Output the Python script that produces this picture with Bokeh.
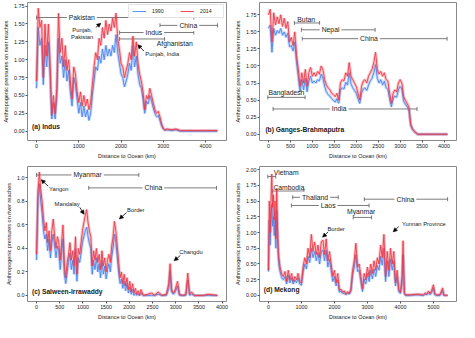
from bokeh.plotting import figure
from bokeh.layouts import gridplot
from bokeh.models import (Range1d, FixedTicker, NumeralTickFormatter, Label, Arrow,
                          NormalHead, Whisker, TeeHead, ColumnDataSource)
from bokeh.embed import file_html
from bokeh.resources import INLINE

FONT = "Liberation Sans"
C1990 = "#4a86ee"
C2014 = "#ee3a4a"

# ---------------- (a) Indus ----------------
indus_km = [0, 40, 80, 120, 160, 200, 240, 280, 320, 360, 400, 440, 480, 520, 560, 600, 640, 680, 720, 760,
            800, 840, 880, 920, 960, 1000, 1040, 1080, 1120, 1160, 1200, 1240, 1280, 1320, 1360, 1400, 1440,
            1480, 1520, 1560, 1600, 1640, 1680, 1720, 1760, 1800, 1840, 1880, 1920, 1960, 2000, 2040, 2080,
            2120, 2160, 2200, 2240, 2280, 2320, 2360, 2400, 2440, 2480, 2520, 2560, 2600, 2640, 2680, 2720,
            2760, 2800, 2840, 2880, 2920, 2960, 3000, 3040, 3080, 3200, 3300, 3400, 3600, 3800, 4000, 4280]
indus_2014 = [0.70, 1.72, 1.45, 1.55, 0.75, 1.50, 1.05, 1.50, 0.95, 0.22, 0.50, 0.25, 0.60, 1.65, 1.10, 1.30,
              0.90, 1.20, 0.85, 1.00, 0.70, 0.45, 0.90, 0.80, 0.55, 0.40, 0.55, 0.35, 0.50, 0.35, 0.45, 0.30,
              0.40, 0.65, 0.90, 1.10, 1.00, 1.30, 1.20, 1.45, 1.30, 1.55, 1.35, 1.50, 1.40, 1.58, 1.45, 1.65,
              1.30, 1.15, 0.95, 0.90, 0.75, 0.85, 0.95, 1.10, 1.00, 1.33, 1.05, 1.25, 0.95, 0.80, 0.70, 0.55,
              0.30, 0.50, 0.45, 0.60, 0.50, 0.40, 0.30, 0.25, 0.28, 0.20, 0.10, 0.04, 0.02, 0.03, 0.02, 0.03,
              0.01, 0.01, 0.01, 0.01, 0.01]
indus_1990 = [0.60, 1.45, 1.20, 1.30, 0.65, 1.20, 0.90, 1.25, 0.80, 0.17, 0.40, 0.17, 0.50, 1.30, 0.95, 1.05,
              0.75, 1.00, 0.70, 0.85, 0.55, 0.35, 0.75, 0.65, 0.45, 0.25, 0.40, 0.20, 0.35, 0.20, 0.30, 0.15,
              0.25, 0.50, 0.70, 0.90, 0.85, 1.05, 0.95, 1.15, 1.00, 1.20, 1.05, 1.15, 1.05, 1.20, 1.10, 1.35,
              1.10, 0.95, 0.80, 0.75, 0.62, 0.70, 0.80, 0.95, 0.85, 1.20, 0.90, 1.05, 0.80, 0.65, 0.60, 0.45,
              0.25, 0.42, 0.38, 0.50, 0.42, 0.33, 0.25, 0.20, 0.22, 0.15, 0.07, 0.03, 0.01, 0.02, 0.01, 0.02,
              0.00, 0.00, 0.00, 0.00, 0.00]

# ---------------- (b) Ganges-Brahmaputra ----------------
ganges_km = [0, 40, 80, 120, 160, 200, 240, 280, 320, 360, 400, 440, 480, 520, 560, 600, 640, 680, 720, 760,
             800, 840, 880, 920, 960, 1000, 1040, 1080, 1120, 1160, 1200, 1240, 1280, 1320, 1360, 1400, 1440,
             1480, 1520, 1560, 1600, 1640, 1680, 1720, 1760, 1800, 1840, 1880, 1920, 1960, 2000, 2040, 2080,
             2120, 2160, 2200, 2240, 2280, 2320, 2360, 2400, 2440, 2480, 2520, 2560, 2600, 2640, 2680, 2720,
             2760, 2800, 2840, 2880, 2920, 2960, 3000, 3040, 3080, 3120, 3160, 3200, 3240, 3280, 3320, 3360,
             3400, 3600, 3800, 4080]
ganges_2014 = [1.75, 1.83, 1.35, 1.78, 1.60, 1.72, 1.62, 1.75, 1.58, 1.70, 1.55, 1.65, 1.35, 1.42, 1.30, 1.50,
               1.15, 0.95, 0.70, 0.90, 0.75, 0.95, 0.70, 0.90, 0.98, 0.85, 0.90, 0.85, 0.92, 0.88, 1.00, 0.95,
               0.80, 0.72, 0.68, 0.65, 0.60, 0.58, 0.55, 0.60, 0.50, 0.75, 0.80, 0.78, 0.90, 0.85, 1.05, 0.85,
               0.80, 0.75, 0.70, 0.60, 0.50, 0.70, 0.78, 0.80, 0.75, 0.85, 0.90, 0.95, 1.05, 1.20, 0.95, 0.88,
               0.92, 0.85, 0.90, 0.80, 0.78, 0.60, 0.45, 0.60, 0.65, 0.62, 0.75, 0.80, 0.75, 0.55, 0.50, 0.45,
               0.40, 0.15, 0.08, 0.05, 0.02, 0.00, 0.00, 0.00, 0.00]
ganges_1990 = [1.55, 1.60, 1.20, 1.55, 1.45, 1.52, 1.48, 1.55, 1.45, 1.50, 1.42, 1.48, 1.28, 1.30, 1.22, 1.35,
               1.05, 0.85, 0.62, 0.80, 0.65, 0.82, 0.62, 0.78, 0.85, 0.75, 0.78, 0.75, 0.80, 0.78, 0.88, 0.82,
               0.70, 0.62, 0.58, 0.56, 0.52, 0.50, 0.47, 0.52, 0.44, 0.65, 0.68, 0.66, 0.76, 0.72, 0.90, 0.74,
               0.68, 0.64, 0.60, 0.52, 0.45, 0.60, 0.66, 0.68, 0.64, 0.72, 0.78, 0.82, 0.90, 1.02, 0.82, 0.75,
               0.80, 0.72, 0.78, 0.68, 0.66, 0.52, 0.40, 0.52, 0.56, 0.54, 0.65, 0.70, 0.66, 0.48, 0.44, 0.40,
               0.36, 0.13, 0.07, 0.04, 0.02, 0.00, 0.00, 0.00, 0.00]

# ---------------- (c) Salween-Irrawaddy ----------------
salween_km = [0, 30, 60, 90, 120, 150, 180, 210, 240, 270, 300, 330, 360, 390, 420, 450, 480, 510, 540, 570,
              600, 630, 660, 690, 720, 750, 780, 810, 840, 870, 900, 930, 960, 990, 1020, 1050, 1080, 1110,
              1140, 1170, 1200, 1230, 1260, 1290, 1320, 1350, 1380, 1410, 1440, 1470, 1500, 1530, 1560, 1590,
              1620, 1650, 1680, 1710, 1740, 1770, 1800, 1830, 1860, 1890, 1920, 1950, 1980, 2010, 2040, 2070,
              2100, 2130, 2160, 2190, 2220, 2250, 2300, 2400, 2480, 2550, 2620, 2700, 2800, 2850, 2880, 2910,
              2950, 2990, 3040, 3080, 3150, 3220, 3260, 3300, 3340, 3400, 3600, 3700, 3900]
salween_2014 = [0.35, 0.88, 1.05, 0.90, 0.80, 0.65, 0.55, 0.62, 0.45, 0.55, 0.38, 0.55, 0.65, 0.50, 0.40, 0.50,
                0.45, 0.30, 0.45, 0.60, 0.25, 0.15, 0.28, 0.35, 0.45, 0.30, 0.38, 0.25, 0.50, 0.18, 0.40, 0.35,
                0.45, 0.55, 0.62, 0.68, 0.73, 0.62, 0.55, 0.50, 0.25, 0.38, 0.30, 0.40, 0.28, 0.35, 0.22, 0.38,
                0.25, 0.32, 0.20, 0.30, 0.35, 0.28, 0.42, 0.50, 0.63, 0.55, 0.42, 0.28, 0.15, 0.20, 0.10, 0.18,
                0.08, 0.15, 0.05, 0.12, 0.03, 0.10, 0.02, 0.06, 0.01, 0.04, 0.00, 0.05, 0.00, 0.01, 0.02, 0.00,
                0.03, 0.00, 0.01, 0.10, 0.27, 0.05, 0.02, 0.05, 0.12, 0.01, 0.00, 0.01, 0.19, 0.01, 0.03, 0.00,
                0.00, 0.01, 0.00]
salween_1990 = [0.30, 0.80, 0.95, 0.80, 0.70, 0.55, 0.48, 0.52, 0.38, 0.48, 0.32, 0.45, 0.52, 0.42, 0.32, 0.42,
                0.38, 0.22, 0.36, 0.48, 0.18, 0.10, 0.20, 0.28, 0.36, 0.22, 0.30, 0.18, 0.40, 0.12, 0.32, 0.28,
                0.36, 0.45, 0.50, 0.55, 0.58, 0.50, 0.44, 0.40, 0.18, 0.30, 0.22, 0.32, 0.20, 0.27, 0.15, 0.30,
                0.18, 0.25, 0.14, 0.22, 0.27, 0.20, 0.33, 0.40, 0.52, 0.45, 0.33, 0.20, 0.10, 0.14, 0.06, 0.12,
                0.04, 0.10, 0.02, 0.07, 0.01, 0.05, 0.00, 0.02, 0.00, 0.01, 0.00, 0.02, 0.00, 0.00, 0.00, 0.00,
                0.01, 0.00, 0.00, 0.06, 0.20, 0.03, 0.01, 0.03, 0.08, 0.00, 0.00, 0.00, 0.13, 0.00, 0.01, 0.00,
                0.00, 0.00, 0.00]

# ---------------- (d) Mekong ----------------
mekong_km = [0, 25, 50, 75, 100, 125, 150, 175, 200, 225, 250, 275, 300, 325, 350, 400, 450, 500, 550, 600,
             650, 700, 750, 800, 850, 900, 950, 1000, 1050, 1100, 1150, 1200, 1250, 1300, 1350, 1400, 1450,
             1500, 1550, 1600, 1650, 1700, 1750, 1800, 1850, 1900, 1950, 2000, 2050, 2100, 2150, 2200, 2250,
             2300, 2350, 2400, 2450, 2500, 2550, 2600, 2650, 2700, 2750, 2800, 2850, 2900, 2950, 3000, 3050,
             3100, 3150, 3200, 3250, 3300, 3350, 3400, 3450, 3500, 3550, 3600, 3650, 3700, 3750, 3800, 3850,
             3900, 3950, 4000, 4050, 4080, 4120, 4150, 4300, 4500, 4700, 4750, 4800, 4850, 4900, 4950, 5000,
             5040, 5100, 5200, 5280, 5310, 5430]
mekong_2014 = [0.40, 1.50, 1.00, 1.45, 1.93, 1.40, 1.60, 1.20, 1.50, 0.90, 1.70, 1.10, 0.70, 0.55, 0.45, 0.35,
               0.30, 0.38, 0.22, 0.40, 0.25, 0.35, 0.22, 0.30, 0.25, 0.35, 0.22, 0.20, 0.45, 0.60, 0.50, 0.75,
               0.60, 0.97, 0.70, 0.85, 0.65, 0.80, 0.60, 0.85, 0.88, 0.65, 0.90, 0.55, 0.70, 0.50, 0.30, 0.40,
               0.20, 0.35, 0.08, 0.10, 0.05, 0.07, 0.02, 0.06, 0.03, 0.10, 0.40, 0.55, 0.83, 0.45, 0.50, 0.30,
               0.10, 0.35, 0.25, 0.45, 0.30, 0.50, 0.35, 0.55, 0.40, 0.60, 0.50, 0.80, 0.60, 0.97, 0.30, 0.70,
               0.40, 0.75, 0.50, 0.70, 0.20, 0.40, 0.10, 0.05, 0.30, 0.87, 0.05, 0.01, 0.01, 0.02, 0.01, 0.04,
               0.02, 0.07, 0.03, 0.08, 0.17, 0.03, 0.01, 0.01, 0.12, 0.01, 0.00]
mekong_1990 = [0.38, 1.20, 0.80, 1.15, 1.45, 1.10, 1.25, 0.95, 1.20, 0.75, 1.35, 0.90, 0.60, 0.45, 0.38, 0.28,
               0.25, 0.30, 0.18, 0.32, 0.20, 0.28, 0.18, 0.25, 0.20, 0.28, 0.18, 0.16, 0.38, 0.50, 0.42, 0.62,
               0.52, 0.75, 0.60, 0.70, 0.55, 0.68, 0.50, 0.70, 0.72, 0.55, 0.72, 0.45, 0.58, 0.40, 0.22, 0.30,
               0.15, 0.25, 0.05, 0.07, 0.03, 0.04, 0.01, 0.04, 0.02, 0.07, 0.32, 0.45, 0.65, 0.38, 0.40, 0.22,
               0.06, 0.26, 0.18, 0.35, 0.22, 0.40, 0.26, 0.42, 0.30, 0.48, 0.40, 0.62, 0.48, 0.75, 0.22, 0.55,
               0.30, 0.58, 0.40, 0.55, 0.15, 0.30, 0.06, 0.03, 0.20, 0.65, 0.03, 0.00, 0.00, 0.01, 0.00, 0.02,
               0.01, 0.04, 0.01, 0.05, 0.12, 0.01, 0.00, 0.00, 0.08, 0.00, 0.00]

# ---------------- country extents along each river (km) ----------------
indus_spans = dict(name=["Pakistan", "China", "Indus", "Afghanistan"],
                   start=[0, 2920, 1965, 1965], end=[3720, 4280, 3720, 3030],
                   level=[1.59, 1.48, 1.38, 1.29])
ganges_spans = dict(name=["Butan", "Nepal", "China", "Bangladesh", "India"],
                    start=[590, 750, 770, -15, 105], end=[1165, 2430, 4070, 835, 3385],
                    level=[1.63, 1.53, 1.40, 0.54, 0.37])
salween_spans = dict(name=["Myanmar", "China"], start=[0, 1125], end=[2205, 3880], level=[1.025, 0.915])
mekong_spans = dict(name=["Vietnam", "Cambodia", "Thailand", "Laos", "Myanmar", "China"],
                    start=[-20, 115, 735, 695, 2570, 2905], end=[220, 1075, 2115, 3050, 3125, 5430],
                    level=[1.89, 1.66, 1.56, 1.43, 1.24, 1.53])

x_ticks_a = [0, 1000, 2000, 3000, 4000]
x_ticks_b = [0, 500, 1000, 1500, 2000, 2500, 3000, 3500, 4000]
x_ticks_c = [0, 500, 1000, 1500, 2000, 2500, 3000, 3500, 4000]
x_ticks_d = [0, 1000, 2000, 3000, 4000, 5000]
y_ticks_ab = [0.0, 0.25, 0.5, 0.75, 1.0, 1.25, 1.5, 1.75]
y_ticks_c = [0.0, 0.2, 0.4, 0.6, 0.8, 1.0]
y_ticks_d = [0.0, 0.25, 0.5, 0.75, 1.0, 1.25, 1.5, 1.75, 2.0]

TXT = "#1a1a1a"
GRAY = "#5a5a5a"


def make_fig(w, h, xr, yr, xt, yt, yfmt, borders):
    l, r, t, b = borders
    p = figure(width=w, height=h, x_range=Range1d(*xr), y_range=Range1d(*yr),
               output_backend="svg", toolbar_location=None,
               min_border_left=l, min_border_right=r, min_border_top=t, min_border_bottom=b)
    p.xgrid.visible = False
    p.ygrid.visible = False
    p.outline_line_color = "#8a8a8a"
    p.outline_line_width = 1
    p.background_fill_color = "white"
    p.border_fill_color = "white"
    p.xaxis.ticker = FixedTicker(ticks=xt)
    p.yaxis.ticker = FixedTicker(ticks=yt)
    p.yaxis.formatter = NumeralTickFormatter(format=yfmt)
    p.xaxis.axis_label = "Distance to Ocean (km)"
    p.yaxis.axis_label = "Anthropogenic pressures on river reaches"
    for ax in (p.xaxis, p.yaxis):
        ax.axis_line_color = None
        ax.major_tick_line_color = "#555555"
        ax.major_tick_out = 2
        ax.major_tick_in = 0
        ax.minor_tick_line_color = None
        ax.major_label_text_font = FONT
        ax.major_label_text_font_size = "5.4px"
        ax.major_label_text_color = TXT
        ax.major_label_standoff = 1
        ax.axis_label_text_font = FONT
        ax.axis_label_text_font_size = "5.5px"
        ax.axis_label_text_font_style = "normal"
        ax.axis_label_text_color = TXT
        ax.axis_label_standoff = 2
    return p


def draw_series(p, km, v90, v14, legend=False):
    p.line(km, v90, line_color=C1990, line_width=3.0, line_alpha=0.3)
    if legend:
        p.line(km, v90, line_color=C1990, line_width=0.9, legend_label="1990")
    else:
        p.line(km, v90, line_color=C1990, line_width=0.9)
    p.line(km, v14, line_color=C2014, line_width=3.0, line_alpha=0.3)
    if legend:
        p.line(km, v14, line_color=C2014, line_width=0.9, legend_label="2014")
    else:
        p.line(km, v14, line_color=C2014, line_width=0.9)


def draw_spans(p, spans, inline, offsets=None):
    src = ColumnDataSource(spans)
    w = Whisker(source=src, base="level", lower="start", upper="end", dimension="width",
                line_color=GRAY, line_width=0.8,
                lower_head=TeeHead(size=4, line_color=GRAY, line_width=0.8),
                upper_head=TeeHead(size=4, line_color=GRAY, line_width=0.8))
    p.add_layout(w)
    for i, name in enumerate(spans["name"]):
        if offsets and name in offsets:
            lx, ly, align = offsets[name]
            p.add_layout(Label(x=lx, y=ly, text=name, text_font=FONT, text_font_size="6.8px",
                               text_color=TXT, text_align=align, text_baseline="middle"))
        elif name in inline:
            lx = inline[name]
            p.add_layout(Label(x=lx, y=spans["level"][i], text=name, text_font=FONT,
                               text_font_size="6.8px", text_color=TXT, text_align="center",
                               text_baseline="middle", background_fill_color="white",
                               padding=2))


def note(p, text, tx, ty, x0, y0, x1, y1, align="center"):
    p.add_layout(Label(x=tx, y=ty, text=text, text_font=FONT, text_font_size="5.8px",
                       text_color=TXT, text_align=align, text_baseline="middle"))
    p.add_layout(Arrow(x_start=x0, y_start=y0, x_end=x1, y_end=y1, line_color="black", line_width=0.8,
                       end=NormalHead(size=4, fill_color="black", line_color="black", line_width=0.5)))


def panel_label(p, text, x, y):
    p.add_layout(Label(x=x, y=y, text=text, text_font=FONT, text_font_size="6.7px",
                       text_font_style="bold", text_color=TXT, text_align="left",
                       text_baseline="middle"))


# (a)
pa = make_fig(229, 161, (-214, 4494), (-0.13, 1.80), x_ticks_a, y_ticks_ab, "0.00", (21, 3, 2, 16))
draw_series(pa, indus_km, indus_1990, indus_2014, legend=True)
draw_spans(pa, indus_spans, inline={"Pakistan": 1070, "China": 3590, "Indus": 2775},
           offsets={"Afghanistan": (3270, 1.22, "center")})
note(pa, "Punjab,\nPakistan", 1080, 1.37, 1400, 1.45, 1520, 1.51)
note(pa, "Punjab, India", 2975, 1.08, 2540, 1.12, 2395, 1.21)
panel_label(pa, "(a) Indus", -105, 0.065)
pa.legend.orientation = "horizontal"
pa.legend.location = "top_right"
pa.legend.label_text_font = FONT
pa.legend.label_text_font_size = "5.2px"
pa.legend.label_text_color = TXT
pa.legend.glyph_width = 14
pa.legend.glyph_height = 6
pa.legend.label_standoff = 6
pa.legend.spacing = 8
pa.legend.padding = 3
pa.legend.margin = 2
pa.legend.border_line_color = "#cccccc"
pa.legend.label_height = 6

# (b)
pb = make_fig(230, 161, (-204, 4284), (-0.092, 1.93), x_ticks_b, y_ticks_ab, "0.00", (30, 3, 1, 17))
draw_series(pb, ganges_km, ganges_1990, ganges_2014)
draw_spans(pb, ganges_spans, inline={"Nepal": 1415, "China": 2290, "India": 1610},
           offsets={"Butan": (860, 1.675, "center"), "Bangladesh": (410, 0.605, "center")})
panel_label(pb, "(b) Ganges-Brahmaputra", -70, 0.07)

# (c)
pc = make_fig(229, 161, (-195, 4095), (-0.052, 1.097), x_ticks_c, y_ticks_c, "0.0", (21, 3, 5, 17))
draw_series(pc, salween_km, salween_1990, salween_2014)
draw_spans(pc, salween_spans, inline={"Myanmar": 1100, "China": 2520})
note(pc, "Yangon", 480, 0.905, 250, 0.93, 100, 0.985)
note(pc, "Mandalay", 660, 0.778, 930, 0.75, 1025, 0.69)
note(pc, "Border", 2140, 0.723, 1940, 0.705, 1785, 0.65)
note(pc, "Changdu", 3330, 0.366, 3100, 0.34, 2965, 0.295)
panel_label(pc, "(c) Salween-Irrawaddy", -100, 0.034)

# (d)
pd_ = make_fig(230, 161, (-272, 5700), (-0.097, 2.05), x_ticks_d, y_ticks_d, "0.00", (30, 3, 5, 16))
draw_series(pd_, mekong_km, mekong_1990, mekong_2014)
draw_spans(pd_, mekong_spans, inline={"Thailand": 1410, "Laos": 1810, "China": 4150},
           offsets={"Vietnam": (160, 1.95, "left"), "Cambodia": (620, 1.72, "center"),
                    "Myanmar": (2810, 1.33, "center")})
note(pd_, "Border", 2050, 1.055, 1810, 1.01, 1640, 0.925)
note(pd_, "Yunnan Province", 4710, 1.13, 3950, 1.094, 3780, 1.01)
panel_label(pd_, "(d) Mekong", -140, 0.096)

grid = gridplot([[pa, pb], [pc, pd_]], toolbar_location=None)

open("out.html", "w").write(file_html(grid, INLINE))
